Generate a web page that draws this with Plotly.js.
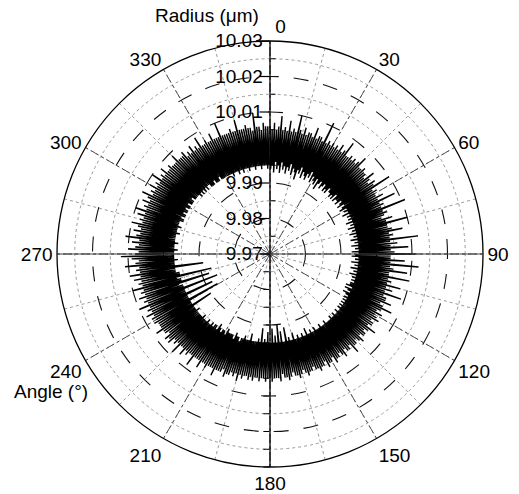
<!DOCTYPE html>
<html>
<head>
<meta charset="utf-8">
<script src="https://cdn.plot.ly/plotly-3.0.1.min.js"></script>
<style>html,body{margin:0;padding:0;background:#fff;}#chart{width:519px;height:494px;}</style>
</head>
<body>
<div id="chart"></div>
<script>
// Angular sampling step (degrees) of the roundness measurement
const angleStep = 0.5;

// Radius readings (µm), quadrant by quadrant, starting at 0° and going clockwise
const radiusQ1 = [ // 0° – 89.5°
10.006,9.994,10.005,9.995,10.007,9.993,10.005,9.996,10.006,9.994,10.009,9.995,10.005,9.993,10.006,9.996,10.005,9.994,10.008,9.995,
10.005,9.993,10.006,9.995,10.005,9.994,10.010,9.996,10.006,9.993,10.005,9.995,10.007,9.994,10.005,9.992,10.006,9.995,10.006,9.994,
10.005,9.996,10.008,9.993,10.005,9.995,10.006,9.994,10.006,9.993,10.005,9.995,10.011,9.994,10.005,9.996,10.006,9.993,10.005,9.995,
10.006,9.994,10.005,9.993,10.006,9.995,10.005,9.992,10.007,9.994,10.005,9.995,10.006,9.993,10.009,9.994,10.005,9.995,10.005,9.993,
10.006,9.994,10.005,9.993,10.006,9.995,10.005,9.994,10.006,9.994,10.008,9.993,10.005,9.994,10.005,9.993,10.006,9.995,10.005,9.993,
10.005,9.994,10.004,9.994,10.007,9.993,10.005,9.995,10.004,9.994,10.006,9.993,10.005,9.995,10.010,9.994,10.004,9.993,10.005,9.995,
10.004,9.994,10.004,9.995,10.006,9.993,10.004,9.995,10.009,9.994,10.004,9.995,10.005,9.994,10.004,9.995,10.011,9.993,10.004,9.995,
10.005,9.994,10.004,9.995,10.003,9.993,10.006,9.995,10.004,9.994,10.010,9.995,10.004,9.993,10.004,9.995,10.005,9.994,10.008,9.995,
10.004,9.993,10.005,9.995,10.004,9.994,10.012,9.995,10.004,9.993,10.006,9.995,10.004,9.994,10.009,9.995,10.004,9.993,10.005,9.995
];
const radiusQ2 = [ // 90° – 179.5°
10.011,9.994,10.004,9.993,10.004,9.995,10.008,9.994,10.004,9.995,10.012,9.993,10.004,9.995,10.005,9.994,10.009,9.995,10.004,9.993,
10.004,9.995,10.010,9.994,10.004,9.995,10.005,9.993,10.004,9.995,10.008,9.994,10.004,9.995,10.006,9.994,10.004,9.995,10.009,9.994,
10.004,9.994,10.005,9.993,10.005,9.995,10.007,9.993,10.004,9.994,10.005,9.995,10.008,9.993,10.005,9.994,10.004,9.995,10.006,9.994,
10.004,9.995,10.005,9.994,10.006,9.995,10.004,9.994,10.005,9.995,10.005,9.994,10.004,9.995,10.007,9.994,10.005,9.995,10.004,9.995,
10.005,9.994,10.005,9.995,10.004,9.995,10.006,9.994,10.005,9.995,10.004,9.995,10.005,9.994,10.005,9.995,10.007,9.995,10.004,9.995,
10.005,9.995,10.005,9.994,10.004,9.995,10.006,9.995,10.005,9.995,10.004,9.994,10.005,9.995,10.005,9.995,10.006,9.995,10.004,9.994,
10.005,9.995,10.005,9.995,10.006,9.994,10.004,9.995,10.005,9.995,10.005,9.993,10.006,9.995,10.005,9.995,10.005,9.994,10.004,9.995,
10.005,9.995,10.005,9.994,10.006,9.995,10.005,9.995,10.004,9.993,10.005,9.995,10.006,9.995,10.005,9.994,10.005,9.995,10.004,9.991,
10.005,9.995,10.006,9.995,10.005,9.992,10.005,9.995,10.004,9.990,10.006,9.995,10.005,9.993,10.005,9.995,10.005,9.991,10.006,9.995
];
const radiusQ3 = [ // 180° – 269.5°
10.005,9.995,10.005,9.992,10.006,9.995,10.005,9.994,10.005,9.995,10.006,9.991,10.005,9.995,10.005,9.994,10.006,9.995,10.005,9.995,
10.006,9.995,10.005,9.995,10.005,9.993,10.006,9.995,10.005,9.995,10.007,9.995,10.005,9.994,10.006,9.995,10.005,9.995,10.006,9.996,
10.006,9.995,10.007,9.995,10.005,9.994,10.006,9.996,10.006,9.995,10.006,9.995,10.008,9.995,10.006,9.995,10.006,9.994,10.006,9.996,
10.007,9.995,10.006,9.995,10.006,9.996,10.008,9.995,10.006,9.994,10.006,9.996,10.006,9.995,10.009,9.995,10.006,9.996,10.006,9.995,
10.007,9.996,10.006,9.996,10.008,9.995,10.006,9.996,10.006,9.996,10.009,9.996,10.006,9.995,10.007,9.996,10.006,9.996,10.008,9.996,
10.007,9.996,10.008,9.996,10.006,9.995,10.007,9.996,10.007,9.996,10.009,9.996,10.007,9.990,10.007,9.996,10.007,9.996,10.008,9.996,
10.007,9.987,10.008,9.996,10.007,9.996,10.009,9.996,10.007,9.988,10.008,9.996,10.007,9.996,10.010,9.996,10.007,9.986,10.008,9.996,
10.007,9.996,10.009,9.997,10.007,9.988,10.008,9.996,10.007,9.996,10.010,9.997,10.007,9.987,10.008,9.996,10.007,9.996,10.009,9.997,
10.007,9.997,10.010,9.997,10.007,9.989,10.008,9.997,10.007,9.997,10.011,9.997,10.008,9.996,10.007,9.997,10.009,9.997,10.012,9.997
];
const radiusQ4 = [ // 270° – 359.5°
10.008,9.997,10.007,9.997,10.010,9.996,10.008,9.997,10.007,9.997,10.009,9.997,10.007,9.996,10.011,9.997,10.008,9.997,10.007,9.997,
10.009,9.997,10.007,9.997,10.008,9.996,10.010,9.997,10.007,9.997,10.008,9.997,10.007,9.996,10.009,9.997,10.007,9.997,10.010,9.997,
10.007,9.996,10.008,9.996,10.007,9.997,10.009,9.996,10.007,9.996,10.008,9.997,10.010,9.996,10.007,9.996,10.008,9.997,10.007,9.996,
10.009,9.996,10.007,9.997,10.008,9.996,10.007,9.996,10.010,9.996,10.007,9.997,10.008,9.996,10.007,9.996,10.009,9.996,10.007,9.996,
10.007,9.995,10.008,9.996,10.007,9.995,10.007,9.996,10.007,9.995,10.009,9.996,10.007,9.995,10.007,9.996,10.007,9.996,10.008,9.995,
10.006,9.995,10.007,9.995,10.006,9.996,10.008,9.995,10.006,9.995,10.007,9.995,10.006,9.996,10.009,9.995,10.006,9.995,10.006,9.995,
10.007,9.995,10.006,9.995,10.006,9.995,10.008,9.995,10.006,9.995,10.006,9.994,10.006,9.995,10.010,9.995,10.006,9.995,10.006,9.994,
10.006,9.995,10.006,9.995,10.007,9.994,10.006,9.995,10.006,9.995,10.009,9.995,10.006,9.994,10.006,9.995,10.006,9.995,10.007,9.995,
10.006,9.994,10.006,9.995,10.005,9.995,10.010,9.995,10.006,9.994,10.006,9.995,10.005,9.995,10.007,9.995,10.006,9.994,10.006,9.995
];

// Axis ticks
const angleTicks = [0,30,60,90,120,150,180,210,240,270,300,330];
const angleLabels = ["\u00a0\u00a0\u00a0\u00a00","30","60","90","120","150","180","210","240","270","300","330"];
const radialTicks = [9.97,9.98,9.99,10.00,10.01,10.02,10.03];
const radialLabels = ["9.97","9.98","9.99","","10.01","10.02","10.03"];
const radialMinorTicks = [9.975,9.985,9.995,10.005,10.015,10.025];
const radialRange = [9.97, 10.03];

const radius = radiusQ1.concat(radiusQ2, radiusQ3, radiusQ4);
const theta = radius.map((_, i) => i * angleStep);

const FONT = 'Liberation Sans, Arial, Helvetica, sans-serif';
const dom = {x:[0,1], y:[0,1]};
const hiddenAngular = {visible:false, rotation:90, direction:'clockwise'};
const empty = id => ({type:'scatterpolar', subplot:id, r:[], theta:[], mode:'lines', showlegend:false, hoverinfo:'skip'});

const traces = [
  empty('polar'),
  {type:'scatterpolar', subplot:'polar2', r:radius, theta:theta, mode:'lines',
   line:{color:'#000', width:1.4}, showlegend:false, hoverinfo:'skip'},
  empty('polar3'), empty('polar4'), empty('polar5'), empty('polar6')
];

const layout = {
  width:519, height:494,
  margin:{l:57, r:36, t:41, b:27, pad:0},
  paper_bgcolor:'#fff',
  font:{family:FONT, size:19, color:'#000'},
  showlegend:false,
  hovermode:false,
  // minor grid layer
  polar:{
    domain:dom, bgcolor:'#fff',
    angularaxis:{rotation:90, direction:'clockwise', tickmode:'linear', tick0:0, dtick:15,
      showticklabels:false, ticks:'', showline:false,
      showgrid:true, gridcolor:'#9a9a9a', gridwidth:1, griddash:'dot'},
    radialaxis:{range:radialRange, tickmode:'array', tickvals:radialMinorTicks, angle:90, side:'clockwise',
      showticklabels:false, ticks:'outside', ticklen:5, tickcolor:'#000', tickwidth:1,
      showline:false, showgrid:true, gridcolor:'#9a9a9a', gridwidth:1, griddash:'dot'}
  },
  // main layer with data
  polar2:{
    domain:dom, bgcolor:'rgba(0,0,0,0)',
    angularaxis:{rotation:90, direction:'clockwise', tickmode:'array', tickvals:angleTicks, ticktext:angleLabels,
      tickfont:{family:FONT, size:19, color:'#000'}, ticks:'',
      showline:true, linecolor:'#000', linewidth:1.3,
      showgrid:true, gridcolor:'#444', gridwidth:0.9, griddash:'dashdot'},
    radialaxis:{range:radialRange, tickmode:'array', tickvals:radialTicks, ticktext:radialLabels, angle:90,
      tickangle:90, side:'counterclockwise', tickfont:{family:FONT, size:19, color:'#000'},
      ticks:'', showline:true, linecolor:'#000', linewidth:1.3, layer:'below traces',
      showgrid:true, gridcolor:'#111', gridwidth:1.1, griddash:'longdash'}
  },
  // lower vertical axis line (180°)
  polar3:{
    domain:dom, bgcolor:'rgba(0,0,0,0)', angularaxis:hiddenAngular,
    radialaxis:{range:radialRange, angle:270, side:'clockwise', tickmode:'linear', tick0:9.97, dtick:0.005,
      showticklabels:false, ticks:'outside', ticklen:6, tickcolor:'#000', tickwidth:1,
      showline:true, linecolor:'#000', linewidth:1.3, showgrid:false}
  },
  // horizontal line (90° and 270°)
  polar4:{
    domain:dom, bgcolor:'rgba(0,0,0,0)', angularaxis:hiddenAngular,
    radialaxis:{range:radialRange, angle:0, showticklabels:false, ticks:'', showline:true,
      linecolor:'#444', linewidth:1, showgrid:false}
  },
  polar5:{
    domain:dom, bgcolor:'rgba(0,0,0,0)', angularaxis:hiddenAngular,
    radialaxis:{range:radialRange, angle:180, showticklabels:false, ticks:'', showline:true,
      linecolor:'#444', linewidth:1, showgrid:false}
  },
  // major ticks of the upper radial axis
  polar6:{
    domain:dom, bgcolor:'rgba(0,0,0,0)', angularaxis:hiddenAngular,
    radialaxis:{range:radialRange, angle:90, side:'counterclockwise', tickmode:'array', tickvals:radialTicks,
      showticklabels:false, ticks:'outside', ticklen:10, tickcolor:'#000', tickwidth:1.2,
      showline:false, showgrid:false}
  },
  annotations:[
    {text:'Radius (μm)', xref:'paper', yref:'paper', x:0.352, y:1.059, showarrow:false,
     xanchor:'center', yanchor:'middle', font:{family:FONT, size:19, color:'#000'}},
    {text:'Angle (°)', xref:'paper', yref:'paper', x:-0.014, y:0.178, showarrow:false,
     xanchor:'center', yanchor:'middle', font:{family:FONT, size:19, color:'#000'}}
  ]
};

Plotly.newPlot('chart', traces, layout, {displayModeBar:false, staticPlot:true});
</script>
</body>
</html>
